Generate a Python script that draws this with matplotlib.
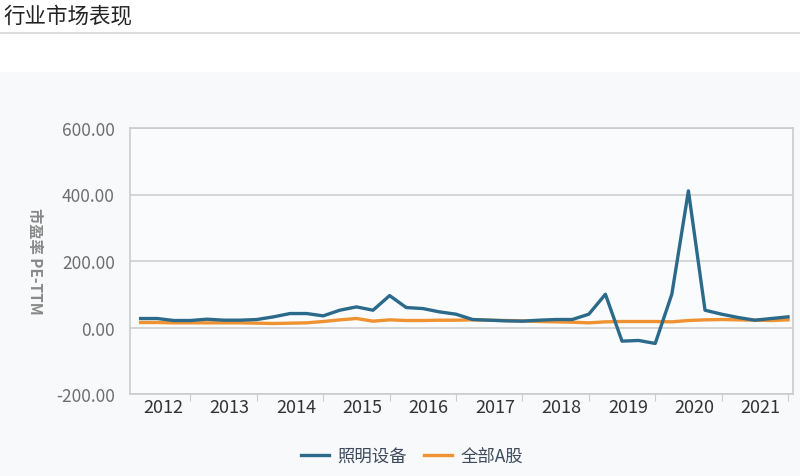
import matplotlib
matplotlib.use("Agg")
import matplotlib.pyplot as plt
from matplotlib.patches import Rectangle
from matplotlib.lines import Line2D

plt.rcParams['font.family'] = ['Noto Sans CJK SC', 'DejaVu Sans']

title = "行业市场表现"
ylabel = "市盈率 PE-TTM"
series_names = ["照明设备", "全部A股"]
years = ["2012", "2013", "2014", "2015", "2016", "2017", "2018", "2019", "2020", "2021"]
# quarterly points 2012Q1 .. 2021Q4
lighting = [27, 27, 21, 21, 25, 22, 22, 24, 32, 42,
            42, 35, 52, 62, 52, 96, 60, 57, 47, 40,
            24, 22, 20, 19, 22, 24, 24, 40, 100, -41,
            -39, -48, 100, 411, 52, 40, 30, 22, 27, 32]
all_a = [15, 15, 14, 14, 14, 14, 14, 13, 12, 13,
         14, 18, 23, 27, 19, 23, 21, 21, 22, 22,
         23, 22, 21, 20, 18, 17, 16, 14, 17, 18,
         18, 18, 17, 21, 23, 24, 23, 22, 21, 23]
yticks = [-200, 0, 200, 400, 600]

W, H = 800, 477
fig = plt.figure(figsize=(W / 100, H / 100), dpi=100)
fig.patch.set_facecolor("white")

# light panel background
fig.patches.append(Rectangle((0, 0), 1, 1 - 73 / H, transform=fig.transFigure,
                             facecolor="#f8f9fb", edgecolor="none", zorder=-5))
# title + separator
fig.text(3 / W, 1 - 16 / H, title, fontsize=15.5, color="#222222", va="center", ha="left")
fig.add_artist(Line2D([0, 1], [1 - 34 / H, 1 - 34 / H], transform=fig.transFigure,
                      color="#d6d6d6", lw=1.2))

ax = fig.add_axes([130 / W, 1 - 395 / H, (793 - 130) / W, (395 - 129) / H])
ax.set_zorder(2)
ax.set_facecolor("#fafbfd")

x = list(range(len(lighting)))
ax.plot(x, lighting, color="#2b6a8a", lw=2.4, label=series_names[0], zorder=3)
ax.plot(x, all_a, color="#ef9232", lw=2.4, label=series_names[1], zorder=2)

ax.set_xlim(-0.64, 39.3)
ax.set_ylim(-200, 600)
ax.set_yticks(yticks)
ax.set_yticklabels([f"{v:.2f}" for v in yticks], fontsize=12.5, color="#6e6e6e")
ax.tick_params(axis="y", length=0, pad=11)
ax.yaxis.grid(True, color="#cfcfcf", lw=1.2)
ax.set_axisbelow(True)

ax.set_xticks([3 + 4 * k for k in range(10)])
ax.set_xticklabels([])
ax.tick_params(axis="x", which="major", length=5, color="#cccccc", direction="out")
ax.set_xticks([1.35 + 4 * k for k in range(10)], minor=True)
ax.set_xticklabels(years, minor=True, fontsize=13, color="#333333")
ax.tick_params(axis="x", which="minor", length=0, pad=3)

for s in ["left", "right", "bottom", "top"]:
    ax.spines[s].set_color("#cccccc")
    ax.spines[s].set_linewidth(1.2)

fig.text(35 / W, 1 - 261 / H, ylabel, rotation=270, fontsize=11, color="#888888",
         fontweight="bold", ha="center", va="center", zorder=3)

fig.legend(loc="center", bbox_to_anchor=(412 / W, 1 - 457 / H), ncol=2, frameon=False,
           fontsize=12.5, handlelength=1.6, handletextpad=0.5, columnspacing=1.0,
           labelcolor="#3d4b5c")

fig.savefig("out.png", dpi=100, facecolor=fig.get_facecolor())
